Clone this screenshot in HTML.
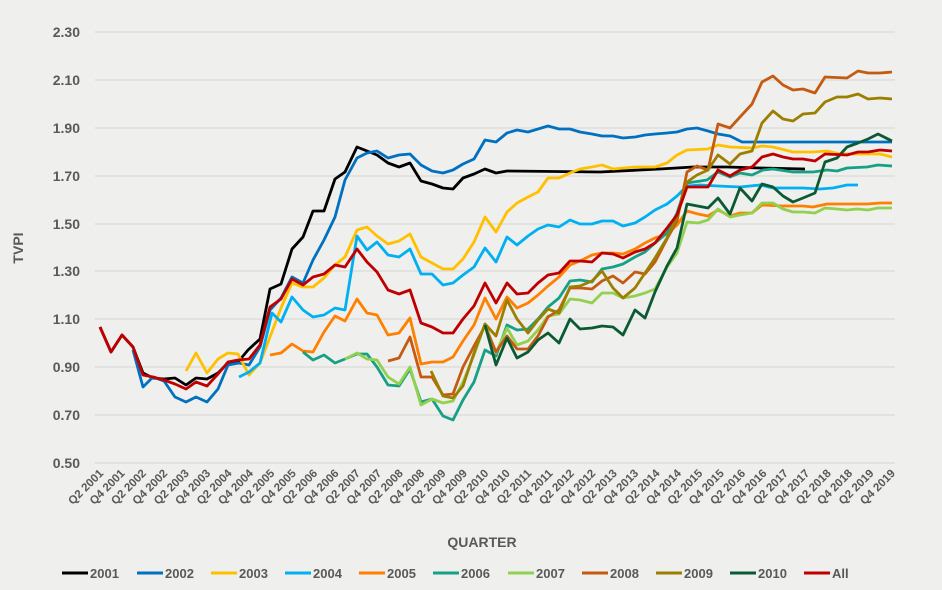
<!DOCTYPE html>
<html><head><meta charset="utf-8"><style>
html,body{margin:0;padding:0;background:#efefed;}
svg{display:block;font-family:"Liberation Sans",sans-serif;}
</style></head><body>
<svg width="942" height="590" viewBox="0 0 942 590">
<rect width="942" height="590" fill="#efefed"/>
<g stroke="#d9d9d9" stroke-width="1.3">
<line x1="95" x2="895" y1="32" y2="32"/><line x1="95" x2="895" y1="80" y2="80"/><line x1="95" x2="895" y1="128" y2="128"/><line x1="95" x2="895" y1="176" y2="176"/><line x1="95" x2="895" y1="224" y2="224"/><line x1="95" x2="895" y1="271" y2="271"/><line x1="95" x2="895" y1="319" y2="319"/><line x1="95" x2="895" y1="367" y2="367"/><line x1="95" x2="895" y1="415" y2="415"/><line x1="95" x2="895" y1="463" y2="463"/>
</g>
<g fill="#595959" font-size="14" font-weight="bold" text-anchor="end">
<text x="80" y="37">2.30</text><text x="80" y="85">2.10</text><text x="80" y="133">1.90</text><text x="80" y="181">1.70</text><text x="80" y="229">1.50</text><text x="80" y="276">1.30</text><text x="80" y="324">1.10</text><text x="80" y="372">0.90</text><text x="80" y="420">0.70</text><text x="80" y="468">0.50</text>
</g>
<text x="23" y="248" transform="rotate(-90 23 248)" fill="#595959" font-size="14" font-weight="bold" text-anchor="middle">TVPI</text>
<text x="482" y="547" fill="#595959" font-size="14" font-weight="bold" text-anchor="middle">QUARTER</text>
<g id="xl" fill="#595959" font-size="11.5" font-weight="bold" text-anchor="end"></g>
<g fill="none" stroke-width="2.8" stroke-linejoin="round">
<polyline stroke="#000" points="100,327 111,352 122,335 133,347 143,373 153,378 164,379 175,378 186,385 196,378 207,379 218,373 228,363 238,362 248,350 260,339 270,289 281,284 292,249 303,237 313,211 324,211 335,179 345,172 357,147 367,151 377,155 388,163 399,167 410,163 421,181 432,184 443,188 453,189 463,178 474,174 485,169 496,173 507,171 600,172 660,169 693,167 727,167 760,168 805,169"/>
<polyline stroke="#0070c0" points="133,350 143,387 153,377 164,381 175,397 186,402 196,397 207,402 218,389 228,365 239,363 249,365 260,347 270,310 281,298 292,277 303,283 313,260 324,240 335,217 345,180 357,158 367,153 377,151 388,158 399,155 410,154 421,165 432,171 443,173 453,170 463,164 474,159 485,140 496,142 507,133 517,130 528,132 538,129 548,126 559,129 570,129 580,132 592,134 602,136 613,136 623,138 635,137 645,135 655,134 667,133 677,132 687,129 697,128 708,131 718,134 730,136 742,142 892,142"/>
<polyline stroke="#ffc000" points="186,371 196,353 207,373 218,359 228,353 238,354 249,375 260,363 270,337 281,308 292,283 303,287 313,287 324,278 335,265 345,257 357,230 367,227 377,236 388,244 399,241 410,234 421,257 432,263 443,269 453,269 463,259 474,242 485,217 496,232 507,212 517,203 528,197 538,192 548,178 559,178 570,173 580,169 592,167 602,165 613,169 635,167 655,167 667,163 677,155 687,150 708,149 718,145 730,147 752,148 762,146 773,147 793,152 813,152 827,151 840,154 880,154 892,157"/>
<polyline stroke="#00b0f0" points="239,377 249,372 260,363 272,313 281,322 292,297 303,310 313,317 324,315 335,308 345,310 357,236 367,250 377,242 388,255 399,257 410,249 421,274 432,274 443,285 453,283 463,275 474,267 485,248 496,262 507,237 517,245 528,236 538,229 548,225 559,227 570,220 580,224 592,224 602,221 613,221 623,226 635,223 645,217 655,210 667,204 677,196 687,186 700,185 718,186 740,187 760,185 773,188 803,188 820,189 833,188 847,185 858,185"/>
<polyline stroke="#ff8000" points="270,355 281,353 292,344 303,351 313,352 324,332 335,316 345,321 357,299 367,313 377,315 388,335 399,333 410,318 421,364 432,362 443,362 453,357 463,341 474,325 485,298 496,319 507,297 517,308 528,303 538,295 548,286 559,277 570,265 580,261 592,255 602,253 613,253 623,254 635,249 645,243 655,238 667,234 677,225 687,211 698,214 708,216 718,210 730,216 740,213 752,213 762,205 783,206 803,206 813,207 827,204 847,204 867,204 880,203 892,203"/>
<polyline stroke="#16a085" points="303,352 313,360 324,355 335,363 345,359 357,354 367,354 377,367 388,385 399,386 410,369 421,402 432,399 443,416 453,420 463,400 474,382 485,350 496,356 507,325 517,330 528,329 538,319 548,307 559,298 570,281 580,280 592,282 602,269 613,267 623,264 635,257 645,252 655,243 667,233 677,213 687,183 707,180 718,172 730,177 740,173 752,175 763,170 773,169 793,172 813,172 827,170 837,171 847,168 867,167 878,165 892,166"/>
<polyline stroke="#92d050" points="345,359 357,353 367,359 377,360 388,377 399,384 410,367 421,405 432,399 443,403 453,401 463,382 474,355 485,324 496,353 507,328 517,345 528,341 538,330 548,316 559,314 570,299 580,300 592,303 602,293 613,293 623,298 635,296 645,293 655,289 667,267 677,253 687,222 698,223 708,220 718,209 730,217 740,215 752,213 762,203 773,203 783,209 793,212 803,212 815,213 825,208 837,209 847,210 857,209 868,210 878,208 892,208"/>
<polyline stroke="#c55a11" points="388,361 399,358 410,337 421,377 432,377 443,395 453,394 463,367 474,346 485,326 496,352 507,336 517,349 528,349 538,336 548,317 559,310 570,288 580,288 592,289 602,281 613,276 623,283 635,272 645,274 655,262 667,239 677,221 687,172 697,166 708,170 718,124 730,128 740,117 752,104 762,82 773,76 783,85 793,90 803,89 815,93 825,77 847,78 858,71 868,73 880,73 892,72"/>
<polyline stroke="#9c7f00" points="431,371 443,396 453,398 463,386 474,353 485,324 496,336 507,300 517,319 528,333 538,320 548,309 559,313 570,287 580,286 592,281 602,271 613,288 623,298 635,288 645,273 655,258 667,238 677,217 687,182 697,175 708,170 718,155 730,164 740,154 752,151 762,123 773,111 783,119 793,121 803,114 815,113 825,102 837,97 847,97 858,94 868,99 880,98 892,99"/>
<polyline stroke="#0b5a33" points="485,325 496,365 507,338 517,358 528,352 538,340 548,333 559,343 570,319 580,329 592,328 602,326 613,327 623,335 635,310 645,318 655,292 667,266 677,248 687,204 708,208 718,198 730,214 740,188 752,201 762,184 773,187 783,196 793,202 803,198 815,193 825,162 837,158 847,147 858,143 868,139 878,134 892,141"/>
<polyline stroke="#c00000" points="100,327 111,352 122,335 133,347 143,375 153,377 164,380 175,384 186,389 196,382 207,386 218,374 228,362 238,360 249,359 260,345 270,307 281,299 292,279 303,285 313,277 324,274 335,265 345,267 357,249 367,262 377,272 388,290 399,294 410,290 421,323 432,327 443,333 453,333 463,319 474,306 485,283 496,303 507,283 517,294 528,293 538,283 548,275 559,273 570,261 580,261 592,262 602,253 613,254 623,258 635,252 645,249 655,243 667,228 677,215 687,187 708,187 718,170 730,176 740,170 752,167 762,157 773,154 783,157 793,159 803,159 815,161 825,154 847,155 858,152 868,152 880,150 892,151"/>
</g>
<g font-size="13" font-weight="bold" fill="#595959">
<line x1="62" x2="88" y1="573" y2="573" stroke="#000" stroke-width="3"/><text x="90" y="578">2001</text>
<line x1="137" x2="163" y1="573" y2="573" stroke="#0070c0" stroke-width="3"/><text x="165" y="578">2002</text>
<line x1="211" x2="237" y1="573" y2="573" stroke="#ffc000" stroke-width="3"/><text x="239" y="578">2003</text>
<line x1="285" x2="311" y1="573" y2="573" stroke="#00b0f0" stroke-width="3"/><text x="313" y="578">2004</text>
<line x1="359" x2="385" y1="573" y2="573" stroke="#ff8000" stroke-width="3"/><text x="387" y="578">2005</text>
<line x1="433" x2="459" y1="573" y2="573" stroke="#16a085" stroke-width="3"/><text x="461" y="578">2006</text>
<line x1="508" x2="534" y1="573" y2="573" stroke="#92d050" stroke-width="3"/><text x="536" y="578">2007</text>
<line x1="582" x2="608" y1="573" y2="573" stroke="#c55a11" stroke-width="3"/><text x="610" y="578">2008</text>
<line x1="656" x2="682" y1="573" y2="573" stroke="#9c7f00" stroke-width="3"/><text x="684" y="578">2009</text>
<line x1="730" x2="756" y1="573" y2="573" stroke="#0b5a33" stroke-width="3"/><text x="758" y="578">2010</text>
<line x1="804" x2="830" y1="573" y2="573" stroke="#c00000" stroke-width="3"/><text x="832" y="578">All</text>
</g>
</svg>
<script>
var g=document.getElementById('xl'),s='';
for(var k=0;k<38;k++){var y=2001+Math.floor(k/2),q=k%2?'Q4':'Q2';var x=(100+21.4*k+4).toFixed(1);
s+='<text x="'+x+'" y="474" transform="rotate(-45 '+x+' 474)">'+q+' '+y+'</text>';}
g.innerHTML=s;
</script>
</body></html>
